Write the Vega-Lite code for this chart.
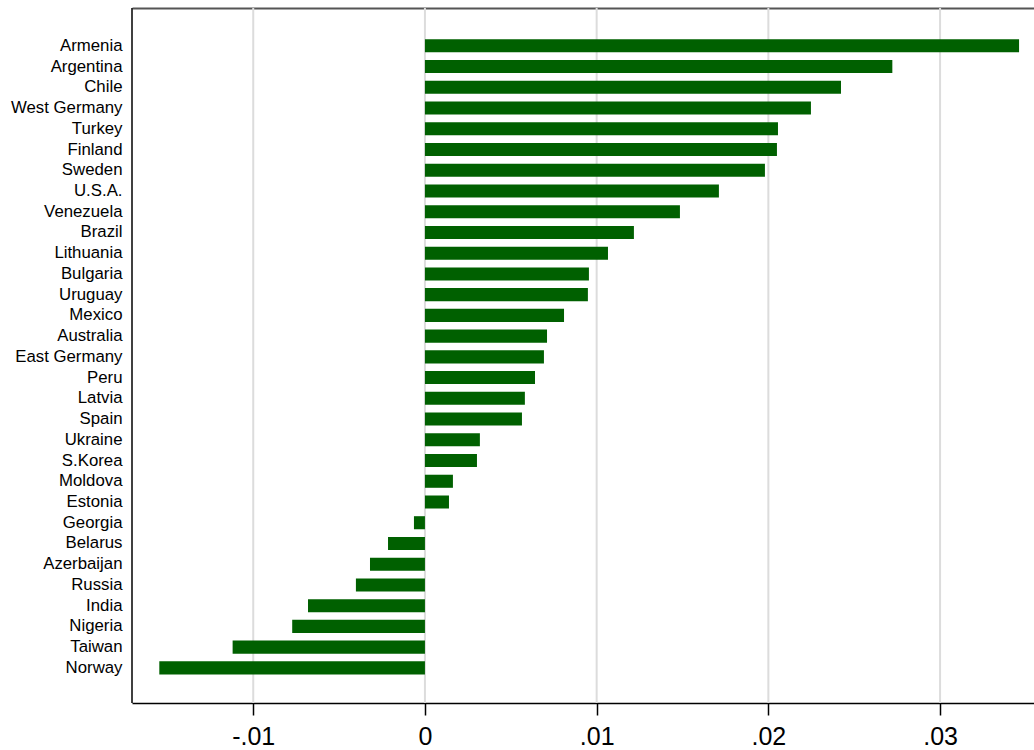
{
  "$schema": "https://vega.github.io/schema/vega-lite/v6.json",
  "autosize": {"type": "none"},
  "padding": {"left": 132, "top": 8, "right": 0, "bottom": 47},
  "width": 902,
  "height": 695,
  "background": "white",
  "config": {
    "view": {"stroke": null},
    "font": "Liberation Sans"
  },
  "datasets": {
    "growth": [
      {"country": "Armenia", "value": 0.0346},
      {"country": "Argentina", "value": 0.02722},
      {"country": "Chile", "value": 0.02423},
      {"country": "West Germany", "value": 0.02248},
      {"country": "Turkey", "value": 0.02056},
      {"country": "Finland", "value": 0.0205},
      {"country": "Sweden", "value": 0.0198},
      {"country": "U.S.A.", "value": 0.01712},
      {"country": "Venezuela", "value": 0.01485},
      {"country": "Brazil", "value": 0.01217},
      {"country": "Lithuania", "value": 0.01066},
      {"country": "Bulgaria", "value": 0.00955},
      {"country": "Uruguay", "value": 0.00949},
      {"country": "Mexico", "value": 0.0081},
      {"country": "Australia", "value": 0.00711},
      {"country": "East Germany", "value": 0.00693},
      {"country": "Peru", "value": 0.00641},
      {"country": "Latvia", "value": 0.00582},
      {"country": "Spain", "value": 0.00565},
      {"country": "Ukraine", "value": 0.0032},
      {"country": "S.Korea", "value": 0.00303},
      {"country": "Moldova", "value": 0.00163},
      {"country": "Estonia", "value": 0.0014},
      {"country": "Georgia", "value": -0.00064},
      {"country": "Belarus", "value": -0.00215},
      {"country": "Azerbaijan", "value": -0.0032},
      {"country": "Russia", "value": -0.00402},
      {"country": "India", "value": -0.00681},
      {"country": "Nigeria", "value": -0.00773},
      {"country": "Taiwan", "value": -0.0112},
      {"country": "Norway", "value": -0.01547}
    ],
    "gridlines": [
      {"tick": -0.01},
      {"tick": 0},
      {"tick": 0.01},
      {"tick": 0.02},
      {"tick": 0.03}
    ],
    "frame": [
      {"edge": -0.01706}
    ]
  },
  "resolve": {"axis": {"x": "independent"}},
  "layer": [
    {
      "data": {"name": "gridlines"},
      "mark": {"type": "rule", "color": "#dcdcdc", "strokeWidth": 2},
      "encoding": {
        "x": {
          "field": "tick",
          "type": "quantitative",
          "scale": {"domain": [-0.01706, 0.03547], "nice": false, "zero": false},
          "axis": {
            "orient": "top",
            "title": null,
            "labels": false,
            "ticks": false,
            "grid": false,
            "domainColor": "#555555",
            "domainWidth": 2
          }
        }
      }
    },
    {
      "data": {"name": "growth"},
      "mark": {"type": "bar", "color": "#006000"},
      "encoding": {
        "y": {
          "field": "country",
          "type": "nominal",
          "sort": null,
          "scale": {"paddingInner": 0.37, "paddingOuter": 0, "range": [31.3, 666.4]},
          "axis": {
            "title": null,
            "ticks": false,
            "domain": false,
            "labelFontSize": 16.8,
            "labelColor": "black",
            "labelPadding": 10
          }
        },
        "x": {
          "field": "value",
          "type": "quantitative",
          "axis": {
            "title": null,
            "values": [-0.01, 0, 0.01, 0.02, 0.03],
            "labelExpr": "datum.value == 0 ? '0' : (datum.value < 0 ? '-' + replace(format(-datum.value, '.2f'), '0.', '.') : replace(format(datum.value, '.2f'), '0.', '.'))",
            "grid": false,
            "domainColor": "black",
            "domainWidth": 1.5,
            "ticks": true,
            "tickColor": "black",
            "tickWidth": 1.5,
            "tickSize": 12,
            "labelFontSize": 25,
            "labelColor": "black",
            "labelPadding": 9,
            "labelFlush": false
          }
        }
      }
    },
    {
      "data": {"name": "frame"},
      "mark": {"type": "rule", "color": "black", "strokeWidth": 1.5},
      "encoding": {
        "x": {"field": "edge", "type": "quantitative", "axis": null}
      }
    }
  ]
}
